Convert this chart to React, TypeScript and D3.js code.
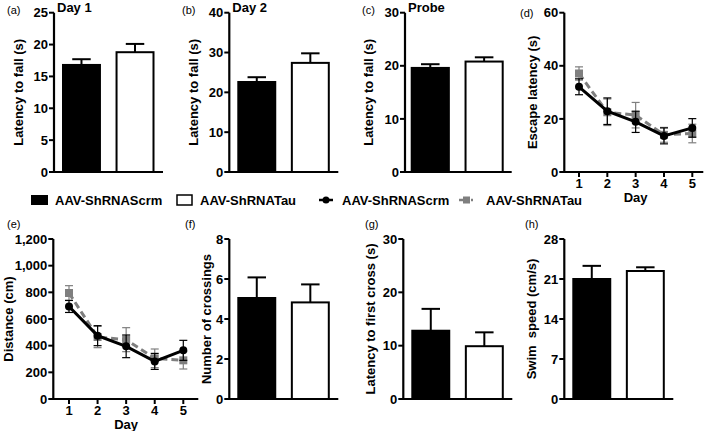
import React from "react";
import * as d3 from "d3";

const groups = ["AAV-ShRNAScrm", "AAV-ShRNATau"];
const day1Mean = [16.8, 18.8];
const day1Sem = [0.9, 1.3];
const day2Mean = [22.6, 27.4];
const day2Sem = [1.2, 2.4];
const probeMean = [19.6, 20.8];
const probeSem = [0.7, 0.8];
const crossMean = [5.05, 4.83];
const crossSem = [1.03, 0.9];
const firstCrossMean = [12.8, 9.9];
const firstCrossSem = [4.1, 2.6];
const swimMean = [21.0, 22.4];
const swimSem = [2.3, 0.65];

const days = [1, 2, 3, 4, 5];
const escapeScrm = [32.1, 22.9, 18.9, 13.6, 16.6];
const escapeScrmSem = [3.0, 5.0, 4.0, 3.0, 3.5];
const escapeTau = [37.1, 22.5, 21.4, 14.0, 14.5];
const escapeTauSem = [2.5, 5.0, 4.8, 2.8, 3.5];
const distScrm = [694, 475, 395, 282, 365];
const distScrmSem = [45, 75, 85, 60, 75];
const distTau = [795, 465, 445, 305, 290];
const distTauSem = [55, 80, 90, 70, 65];

const FONT = "'Liberation Sans', Arial, Helvetica, sans-serif";
const GRAY = "#7f7f7f";

type BarProps = {
  axisX: number; yTop: number; yBottom: number; max: number; ticks: number[];
  means: number[]; sems: number[]; yLabel: string; labelX: number;
  title?: string; letter: string; letterX: number; letterY: number;
  barStart?: number; barEnd?: number; baseEnd?: number; fmt?: (v: number) => string;
};

function YAxis({ axisX, y, ticks, fmt }: { axisX: number; y: d3.ScaleLinear<number, number>; ticks: number[]; fmt: (v: number) => string }) {
  return (
    <g>
      <line x1={axisX} x2={axisX} y1={y(ticks[ticks.length - 1])} y2={y(0) + 1} stroke="#000" strokeWidth={2.2} />
      {ticks.map((t) => (
        <g key={t}>
          <line x1={axisX - 5} x2={axisX} y1={y(t)} y2={y(t)} stroke="#000" strokeWidth={2} />
          <text x={axisX - 6} y={y(t)} dy="0.36em" textAnchor="end" fontSize={13} fontWeight="bold" fontFamily={FONT}>{fmt(t)}</text>
        </g>
      ))}
    </g>
  );
}

function YLabel({ x, yMid, text }: { x: number; yMid: number; text: string }) {
  return (
    <text transform={`translate(${x},${yMid}) rotate(-90)`} dy="0.36em" textAnchor="middle" fontSize={13} fontWeight="bold" fontFamily={FONT} xmlSpace="preserve">{text}</text>
  );
}

function BarPanel(p: BarProps) {
  const y = d3.scaleLinear().domain([0, p.max]).range([p.yBottom, p.yTop]);
  const x = d3.scaleBand<string>().domain(groups).range([p.axisX + (p.barStart ?? 9), p.axisX + (p.barEnd ?? 99.5)]).paddingInner(0.31).paddingOuter(0);
  const bw = x.bandwidth();
  const fmt = p.fmt ?? ((v: number) => String(v));
  return (
    <g>
      <text x={p.letterX} y={p.letterY} fontSize={11} fontFamily={FONT}>{p.letter}</text>
      {p.title && <text x={p.axisX + 3} y={p.yTop - 1.2} fontSize={13} fontWeight="bold" fontFamily={FONT}>{p.title}</text>}
      {groups.map((g, i) => {
        const x0 = x(g)!;
        const cx = x0 + bw / 2;
        const top = y(p.means[i]);
        const et = y(p.means[i] + p.sems[i]);
        return (
          <g key={g}>
            <line x1={cx} x2={cx} y1={top} y2={et} stroke="#000" strokeWidth={2} />
            <line x1={cx - bw / 4} x2={cx + bw / 4} y1={et} y2={et} stroke="#000" strokeWidth={2} />
            <rect x={x0} y={top} width={bw} height={p.yBottom - top} fill={i === 0 ? "#000" : "#fff"} stroke="#000" strokeWidth={2} />
          </g>
        );
      })}
      <YAxis axisX={p.axisX} y={y} ticks={p.ticks} fmt={fmt} />
      <line x1={p.axisX - 1} x2={p.axisX + (p.baseEnd ?? 109)} y1={p.yBottom} y2={p.yBottom} stroke="#000" strokeWidth={2.2} />
      <YLabel x={p.labelX} yMid={(p.yTop + p.yBottom) / 2} text={p.yLabel} />
    </g>
  );
}

type LineProps = {
  axisX: number; yTop: number; yBottom: number; max: number; ticks: number[];
  scrm: number[]; scrmSem: number[]; tau: number[]; tauSem: number[];
  yLabel: string; labelX: number; letter: string; letterX: number; letterY: number;
  xStart: number; xEnd: number; baseEnd: number; fmt?: (v: number) => string;
};

function LinePanel(p: LineProps) {
  const y = d3.scaleLinear().domain([0, p.max]).range([p.yBottom, p.yTop]);
  const x = d3.scaleLinear().domain([1, 5]).range([p.axisX + p.xStart, p.axisX + p.xEnd]);
  const fmt = p.fmt ?? ((v: number) => String(v));
  const line = d3.line<number>().x((_, i) => x(days[i])).y((v) => y(v));
  const errs = (vals: number[], sems: number[], color: string) =>
    vals.map((v, i) => {
      const cx = x(days[i]);
      const a = y(v + sems[i]);
      const b = y(v - sems[i]);
      return (
        <g key={i}>
          <line x1={cx} x2={cx} y1={a} y2={b} stroke={color} strokeWidth={1.2} />
          <line x1={cx - 4} x2={cx + 4} y1={a} y2={a} stroke={color} strokeWidth={1.2} />
          <line x1={cx - 4} x2={cx + 4} y1={b} y2={b} stroke={color} strokeWidth={1.2} />
        </g>
      );
    });
  return (
    <g>
      <text x={p.letterX} y={p.letterY} fontSize={11} fontFamily={FONT}>{p.letter}</text>
      <path d={line(p.tau)!} fill="none" stroke={GRAY} strokeWidth={3} strokeDasharray="7,4" />
      {errs(p.tau, p.tauSem, GRAY)}
      {p.tau.map((v, i) => (
        <rect key={i} x={x(days[i]) - 4} y={y(v) - 4} width={8} height={8} fill={GRAY} />
      ))}
      <path d={line(p.scrm)!} fill="none" stroke="#000" strokeWidth={3} />
      {errs(p.scrm, p.scrmSem, "#000")}
      {p.scrm.map((v, i) => (
        <circle key={i} cx={x(days[i])} cy={y(v)} r={4} fill="#000" />
      ))}
      <YAxis axisX={p.axisX} y={y} ticks={p.ticks} fmt={fmt} />
      <line x1={p.axisX - 1} x2={p.axisX + p.baseEnd} y1={p.yBottom} y2={p.yBottom} stroke="#000" strokeWidth={2.2} />
      {days.map((d) => (
        <g key={d}>
          <line x1={x(d)} x2={x(d)} y1={p.yBottom} y2={p.yBottom + 5} stroke="#000" strokeWidth={2} />
          <text x={x(d)} y={p.yBottom + 15.5} textAnchor="middle" fontSize={13} fontWeight="bold" fontFamily={FONT}>{d}</text>
        </g>
      ))}
      <text x={(x(1) + x(5)) / 2} y={p.yBottom + 29.5} textAnchor="middle" fontSize={13} fontWeight="bold" fontFamily={FONT}>Day</text>
      <YLabel x={p.labelX} yMid={(p.yTop + p.yBottom) / 2} text={p.yLabel} />
    </g>
  );
}

function Legend() {
  const yc = 200;
  const t = (x: number, s: string) => (
    <text x={x} y={yc} dy="0.36em" fontSize={13} fontWeight="bold" fontFamily={FONT}>{s}</text>
  );
  return (
    <g>
      <rect x={31} y={yc - 5} width={17} height={10} fill="#000" />
      {t(55, groups[0])}
      <rect x={177} y={yc - 5} width={15} height={10} fill="#fff" stroke="#000" strokeWidth={1.5} />
      {t(200, groups[1])}
      <line x1={319} x2={333} y1={yc} y2={yc} stroke="#000" strokeWidth={2.5} />
      <circle cx={326} cy={yc} r={3.5} fill="#000" />
      {t(342, groups[0])}
      <line x1={459} x2={473} y1={yc} y2={yc} stroke={GRAY} strokeWidth={2.5} strokeDasharray="4,2" />
      <rect x={463} y={yc - 3.5} width={7} height={7} fill={GRAY} />
      {t(486, groups[1])}
    </g>
  );
}

export default function App() {
  const topT = 12.7, topB = 172;
  const botT = 239, botB = 399;
  return (
    <svg width={709} height={431} style={{ position: "absolute", left: 0, top: 0, background: "#fff" }}>
      <BarPanel axisX={54} yTop={topT} yBottom={topB} max={25} ticks={[0, 5, 10, 15, 20, 25]} means={day1Mean} sems={day1Sem}
        yLabel="Latency to fall (s)" labelX={18} title="Day 1" letter="(a)" letterX={7} letterY={14} />
      <BarPanel axisX={229.3} yTop={topT} yBottom={topB} max={40} ticks={[0, 10, 20, 30, 40]} means={day2Mean} sems={day2Sem}
        yLabel="Latency to fall (s)" labelX={193} title="Day 2" letter="(b)" letterX={182} letterY={14} />
      <BarPanel axisX={405} yTop={topT} yBottom={topB} max={30} ticks={[0, 10, 20, 30]} means={probeMean} sems={probeSem}
        yLabel="Latency to fall (s)" labelX={368} title="Probe" letter="(c)" letterX={362} letterY={14} barStart={6.7} barEnd={97.7} baseEnd={106.7} />
      <LinePanel axisX={564.3} yTop={topT} yBottom={topB} max={60} ticks={[0, 20, 40, 60]} scrm={escapeScrm} scrmSem={escapeScrmSem}
        tau={escapeTau} tauSem={escapeTauSem} yLabel="Escape latency (s)" labelX={532.5} letter="(d)" letterX={520} letterY={17}
        xStart={14.7} xEnd={128} baseEnd={139} />
      <Legend />
      <LinePanel axisX={53.3} yTop={botT} yBottom={botB} max={1200} ticks={[0, 200, 400, 600, 800, 1000, 1200]} scrm={distScrm} scrmSem={distScrmSem}
        tau={distTau} tauSem={distTauSem} yLabel="Distance (cm)" labelX={8} letter="(e)" letterX={7} letterY={228}
        xStart={15.7} xEnd={130} baseEnd={145} fmt={d3.format(",")} />
      <BarPanel axisX={229.3} yTop={botT} yBottom={botB} max={8} ticks={[0, 2, 4, 6, 8]} means={crossMean} sems={crossSem}
        yLabel="Number of crossings" labelX={206.7} letter="(f)" letterX={185} letterY={228} />
      <BarPanel axisX={403.3} yTop={botT} yBottom={botB} max={30} ticks={[0, 10, 20, 30]} means={firstCrossMean} sems={firstCrossSem}
        yLabel="Latency to first cross (s)" labelX={370} letter="(g)" letterX={365} letterY={228} />
      <BarPanel axisX={564.3} yTop={botT} yBottom={botB} max={28} ticks={[0, 7, 14, 21, 28]} means={swimMean} sems={swimSem}
        yLabel="Swim  speed (cm/s)" labelX={531} letter="(h)" letterX={525} letterY={228} />
    </svg>
  );
}
